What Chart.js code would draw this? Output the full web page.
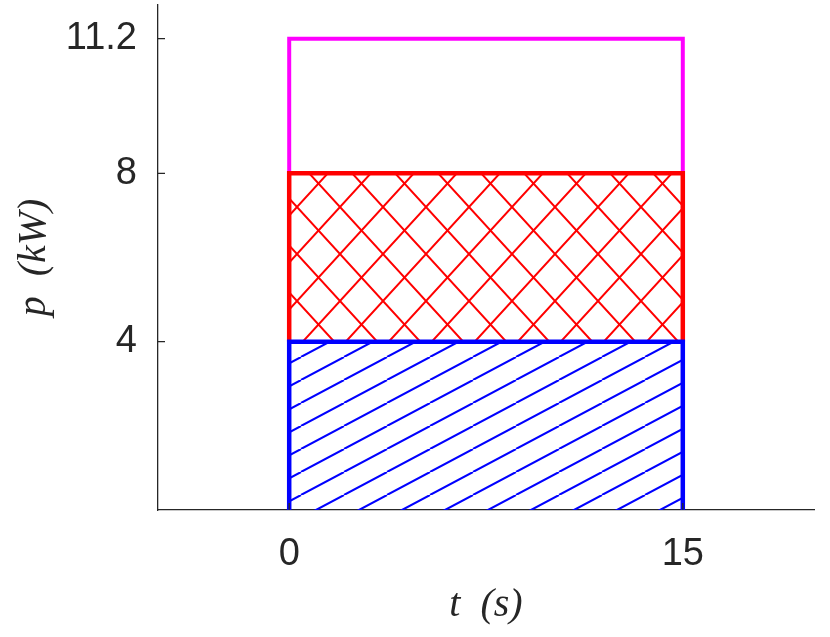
<!DOCTYPE html>
<html>
<head>
<meta charset="utf-8">
<script src="https://cdn.jsdelivr.net/npm/chart.js@4/dist/chart.umd.min.js"></script>
<style>
  html, body { margin: 0; padding: 0; background: #fff; }
  #wrap { width: 830px; height: 637px; }
</style>
</head>
<body>
<div id="wrap"><canvas id="powerChart" width="830" height="637"></canvas></div>
<script>
// Data
const tCorners = [0, 0, 15, 15];
const basePower = [0, 4, 4, 0];
const midPower = [4, 8, 8, 4];
const peakPower = [8, 11.2, 11.2, 8];
const xTicks = [0, 15];
const yTicks = [4, 8, 11.2];
const xRange = [-5, 20];
const yRange = [0, 12];

const axisColor = "#262626";

function toPoints(ys) {
  return tCorners.map((t, i) => ({ x: t, y: ys[i] }));
}

// Hatch patterns
function makePattern(w, h, color, drawFn, dx, dy) {
  const c = document.createElement("canvas");
  c.width = w; c.height = h;
  const g = c.getContext("2d");
  g.strokeStyle = color;
  g.lineWidth = 2;
  drawFn(g, w, h);
  const ctx = document.getElementById("powerChart").getContext("2d");
  const p = ctx.createPattern(c, "repeat");
  p.setTransform(new DOMMatrix().translate(dx, dy));
  return p;
}

// single diagonal hatch (rising to the right)
const blueHatch = makePattern(43, 23, "#0000ff", (g, w, h) => {
  g.beginPath();
  for (let k = -1; k <= 1; k++) {
    g.moveTo(k * w, h);
    g.lineTo(k * w + w, 0);
  }
  g.stroke();
}, 0, 12);

// cross hatch
const redHatch = makePattern(43, 47, "#ff0000", (g, w, h) => {
  g.beginPath();
  g.moveTo(0, 0); g.lineTo(w, h);
  g.moveTo(0, h); g.lineTo(w, 0);
  g.moveTo(-w, 0); g.lineTo(0, h);
  g.moveTo(w, 0); g.lineTo(2 * w, h);
  g.moveTo(-w, h); g.lineTo(0, 0);
  g.moveTo(w, h); g.lineTo(2 * w, 0);
  g.stroke();
}, 39, 19);

// inward tick marks
const innerTicks = {
  id: "innerTicks",
  afterDraw(chart) {
    const { ctx, scales: { x, y } } = chart;
    ctx.save();
    ctx.strokeStyle = axisColor;
    ctx.lineWidth = 1.3;
    ctx.beginPath();
    yTicks.forEach(v => {
      const py = y.getPixelForValue(v);
      ctx.moveTo(x.left, py);
      ctx.lineTo(x.left + 7, py);
    });
    xTicks.forEach(v => {
      const px = x.getPixelForValue(v);
      ctx.moveTo(px, y.bottom);
      ctx.lineTo(px, y.bottom - 7);
    });
    ctx.stroke();
    ctx.restore();
  }
};

function noEdgePadding(scale) {
  scale.paddingTop = 0;
  scale.paddingBottom = 0;
  scale.paddingLeft = 0;
  scale.paddingRight = 0;
}

const common = {
  pointRadius: 0,
  pointHoverRadius: 0,
  tension: 0,
  borderJoinStyle: "miter",
  borderCapStyle: "butt"
};

new Chart(document.getElementById("powerChart"), {
  type: "line",
  data: {
    datasets: [
      {
        ...common,
        data: toPoints(basePower),
        borderColor: "#0000ff",
        borderWidth: 4.5,
        backgroundColor: blueHatch,
        fill: "origin"
      },
      {
        ...common,
        data: toPoints(midPower),
        borderColor: "#ff0000",
        borderWidth: 4.5,
        backgroundColor: redHatch,
        fill: { value: 4 }
      },
      {
        ...common,
        data: toPoints(peakPower),
        borderColor: "#ff00ff",
        borderWidth: 4,
        fill: false
      }
    ]
  },
  options: {
    responsive: false,
    animation: false,
    layout: { padding: { left: 0, right: 16, top: 5, bottom: 0 } },
    plugins: {
      legend: { display: false },
      tooltip: { enabled: false }
    },
    scales: {
      x: {
        type: "linear",
        min: xRange[0],
        max: xRange[1],
        afterFit(scale) { scale.height = 127; noEdgePadding(scale); },
        afterBuildTicks(scale) { scale.ticks = xTicks.map(v => ({ value: v })); },
        grid: { display: false, drawTicks: false, tickLength: 0 },
        border: { display: true, color: axisColor, width: 1.3 },
        ticks: {
          color: axisColor,
          padding: 22,
          maxRotation: 0,
          font: { family: "'Liberation Sans', Arial, sans-serif", size: 38 }
        },
        title: {
          display: true,
          text: "t  (s)",
          color: axisColor,
          padding: { top: 0, bottom: 8 },
          font: { family: "'Liberation Serif', serif", style: "italic", size: 40 }
        }
      },
      y: {
        type: "linear",
        min: yRange[0],
        max: yRange[1],
        afterFit(scale) { scale.width = 158; noEdgePadding(scale); },
        afterBuildTicks(scale) { scale.ticks = yTicks.map(v => ({ value: v })); },
        grid: { display: false, drawTicks: false, tickLength: 0 },
        border: { display: true, color: axisColor, width: 1.3 },
        ticks: {
          color: axisColor,
          padding: 21,
          font: { family: "'Liberation Sans', Arial, sans-serif", size: 38 }
        },
        title: {
          display: true,
          text: "p  (kW)",
          color: axisColor,
          padding: { top: 10, bottom: 0 },
          font: { family: "'Liberation Serif', serif", style: "italic", size: 40 }
        }
      }
    }
  },
  plugins: [innerTicks]
});
</script>
</body>
</html>
